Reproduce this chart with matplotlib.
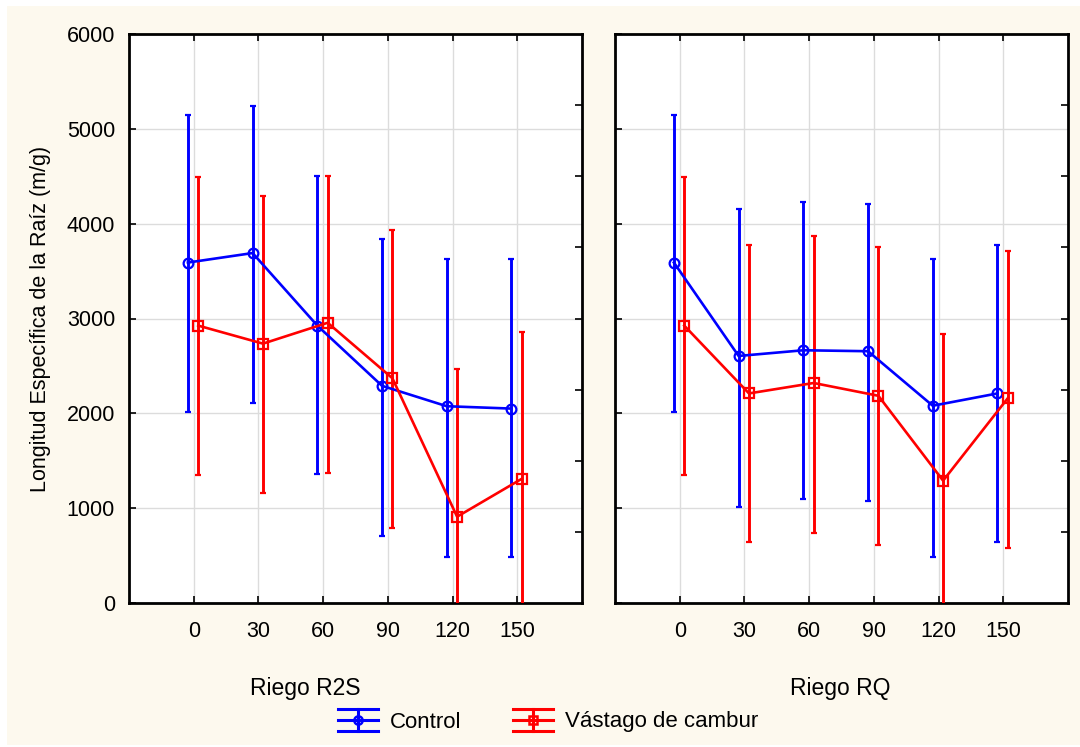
import matplotlib.pyplot as plt
import numpy as np
from matplotlib.lines import Line2D
from matplotlib.patches import Rectangle
from matplotlib.legend_handler import HandlerBase

plt.rcParams['font.family'] = ['Liberation Sans', 'DejaVu Sans']

dosis = ["0", "30", "60", "90", "120", "150"]

# Riego R2S
r2s_ctrl = [3590, 3690, 2925, 2290, 2075, 2050]
r2s_ctrl_hi = [5145, 5245, 4500, 3840, 3625, 3625]
r2s_ctrl_lo = [2010, 2110, 1360, 705, 490, 485]
r2s_vast = [2925, 2735, 2955, 2370, 910, 1310]
r2s_vast_hi = [4490, 4295, 4505, 3935, 2465, 2855]
r2s_vast_lo = [1350, 1160, 1370, 795, -650, -235]

# Riego RQ
rq_ctrl = [3590, 2605, 2665, 2655, 2080, 2210]
rq_ctrl_hi = [5145, 4150, 4230, 4210, 3625, 3775]
rq_ctrl_lo = [2010, 1015, 1095, 1075, 490, 645]
rq_vast = [2925, 2210, 2320, 2185, 1290, 2160]
rq_vast_hi = [4490, 3775, 3870, 3755, 2840, 3710]
rq_vast_lo = [1350, 640, 735, 615, -260, 575]

paneles = [
    ("Riego R2S", r2s_ctrl, r2s_ctrl_hi, r2s_ctrl_lo, r2s_vast, r2s_vast_hi, r2s_vast_lo),
    ("Riego RQ", rq_ctrl, rq_ctrl_hi, rq_ctrl_lo, rq_vast, rq_vast_hi, rq_vast_lo),
]

fondo = "#fdf9ee"
W, H = 1080, 747
fig = plt.figure(figsize=(W / 100, H / 100), dpi=100, facecolor="white")
fig.patches.append(Rectangle((7 / W, 2 / H), 1 - 7 / W, 1 - 8 / H,
                             transform=fig.transFigure, facecolor=fondo,
                             edgecolor="none", zorder=-10))

ax_pos = [(129, 582), (615, 1068)]
top, bottom = 34, 603
x = np.arange(1, len(dosis) + 1)

for (x0, x1), (titulo, c, chi, clo, v, vhi, vlo) in zip(ax_pos, paneles):
    ax = fig.add_axes([x0 / W, 1 - bottom / H, (x1 - x0) / W, (bottom - top) / H])
    ax.set_facecolor("white")
    for m, hi, lo, dx, col, mk in [(c, chi, clo, -0.09, "#0000ff", "o"),
                                   (v, vhi, vlo, 0.07, "#ff0000", "s")]:
        m = np.array(m)
        err = [m - np.array(lo), np.array(hi) - m]
        ax.errorbar(x + dx, m, yerr=err, color=col, lw=1.9, elinewidth=2.1,
                    capsize=2.5, capthick=1.8, marker=mk, ms=7,
                    mfc="none", mec=col, mew=1.6, zorder=3)
    ax.set_xlim(0, 7)
    ax.set_ylim(0, 6000)
    ax.set_xticks(x)
    ax.set_yticks(np.arange(0, 6001, 1000))
    ax.grid(True, color="#dcdcdc", lw=1)
    ax.set_axisbelow(True)
    ax.tick_params(direction="in", length=5, width=1.2, top=True, bottom=True,
                   labelsize=15.5, pad=10)
    ax.tick_params(axis="x", pad=13)
    ax.set_xticklabels(dosis)
    if x0 == 129:
        ax.set_ylabel("Longitud Específica de la Raíz (m/g)", fontsize=15.5, labelpad=11)
    else:
        ax.set_yticklabels([])
    for s in ax.spines.values():
        s.set_linewidth(2)
    # marcas del eje derecho
    ax2 = ax.twinx()
    ax2.set_ylim(0, 6000)
    ax2.set_yticks(np.arange(750, 6000, 750))
    ax2.set_yticklabels([])
    ax2.tick_params(direction="in", length=5, width=1.2)
    for s in ax2.spines.values():
        s.set_visible(False)

fig.text(305 / W, 1 - 688 / H, "Riego R2S", ha="center", va="center", fontsize=16.5)
fig.text(840 / W, 1 - 688 / H, "Riego RQ", ha="center", va="center", fontsize=16.5)


class ErrorbarIcon(HandlerBase):
    def create_artists(self, legend, orig, xdescent, ydescent, width, height,
                       fontsize, trans):
        col = orig.get_color()
        cy = height / 2 - ydescent
        x0, x1 = -xdescent, -xdescent + width
        h = height * 0.72
        arts = []
        for yy in (cy - h, cy, cy + h):
            arts.append(Line2D([x0, x1], [yy, yy], color=col, lw=2.2))
        arts.append(Line2D([(x0 + x1) / 2] * 2, [cy - h, cy + h], color=col, lw=2.2))
        arts.append(Line2D([(x0 + x1) / 2], [cy], marker=orig.get_marker(), ms=6,
                           mfc="none", mec=col, mew=1.8, lw=0))
        for a in arts:
            a.set_transform(trans)
        return arts


h_ctrl = Line2D([], [], color="#0000ff", marker="o")
h_vast = Line2D([], [], color="#ff0000", marker="s")
fig.legend([h_ctrl, h_vast], ["Control", "Vástago de cambur"],
           handler_map={Line2D: ErrorbarIcon()}, loc="center",
           bbox_to_anchor=(548 / W, 1 - 722 / H), ncol=2, frameon=False,
           fontsize=16, handlelength=1.8, handletextpad=0.55, columnspacing=2.3)

fig.savefig("out.png", dpi=100, facecolor=fig.get_facecolor())
